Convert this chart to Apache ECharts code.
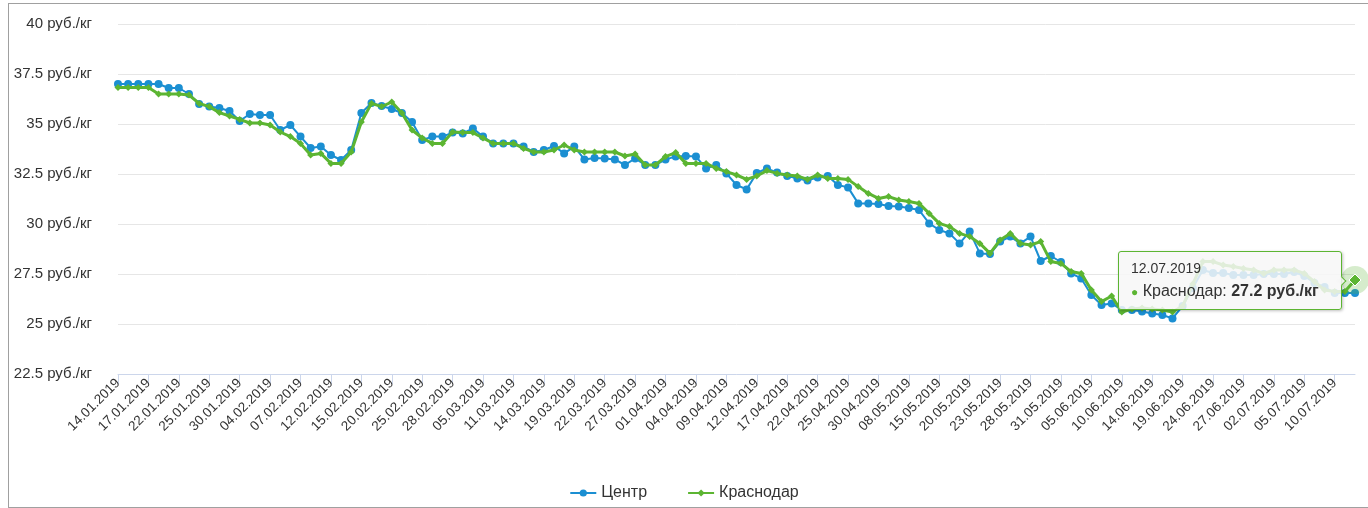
<!DOCTYPE html>
<html>
<head>
<meta charset="utf-8">
<script src="https://cdn.jsdelivr.net/npm/echarts@6/dist/echarts.min.js"></script>
<style>
html,body{margin:0;padding:0;background:#fff;}
#frame{position:absolute;left:8px;top:3px;width:1370px;height:503px;border-left:1px solid #a0a0a0;border-top:1px solid #a0a0a0;border-bottom:1px solid #a0a0a0;}
#chart{position:absolute;left:0;top:0;width:1368px;height:508px;}
</style>
</head>
<body>
<div id="frame"></div>
<div id="chart"></div>
<script>
const categories = [
"14.01.2019","15.01.2019","16.01.2019","17.01.2019","18.01.2019","21.01.2019","22.01.2019","23.01.2019","24.01.2019","25.01.2019","28.01.2019","29.01.2019","30.01.2019","31.01.2019",
"01.02.2019","04.02.2019","05.02.2019","06.02.2019","07.02.2019","08.02.2019","11.02.2019","12.02.2019","13.02.2019","14.02.2019","15.02.2019","18.02.2019","19.02.2019","20.02.2019","21.02.2019","22.02.2019","25.02.2019","26.02.2019","27.02.2019","28.02.2019",
"01.03.2019","04.03.2019","05.03.2019","06.03.2019","07.03.2019","11.03.2019","12.03.2019","13.03.2019","14.03.2019","15.03.2019","18.03.2019","19.03.2019","20.03.2019","21.03.2019","22.03.2019","25.03.2019","26.03.2019","27.03.2019","28.03.2019","29.03.2019",
"01.04.2019","02.04.2019","03.04.2019","04.04.2019","05.04.2019","08.04.2019","09.04.2019","10.04.2019","11.04.2019","12.04.2019","15.04.2019","16.04.2019","17.04.2019","18.04.2019","19.04.2019","22.04.2019","23.04.2019","24.04.2019","25.04.2019","26.04.2019","29.04.2019","30.04.2019",
"06.05.2019","07.05.2019","08.05.2019","13.05.2019","14.05.2019","15.05.2019","16.05.2019","17.05.2019","20.05.2019","21.05.2019","22.05.2019","23.05.2019","24.05.2019","27.05.2019","28.05.2019","29.05.2019","30.05.2019","31.05.2019",
"03.06.2019","04.06.2019","05.06.2019","06.06.2019","07.06.2019","10.06.2019","11.06.2019","13.06.2019","14.06.2019","17.06.2019","18.06.2019","19.06.2019","20.06.2019","21.06.2019","24.06.2019","25.06.2019","26.06.2019","27.06.2019","28.06.2019",
"01.07.2019","02.07.2019","03.07.2019","04.07.2019","05.07.2019","08.07.2019","09.07.2019","10.07.2019","11.07.2019","12.07.2019"
];

const centr = [
37.0,37.0,37.0,37.0,37.0,36.8,36.8,36.5,36.0,35.87,35.8,35.65,35.15,35.5,
35.45,35.45,34.7,34.95,34.37,33.8,33.87,33.45,33.2,33.7,35.55,36.05,35.9,35.75,35.55,35.1,34.2,34.37,34.37,34.57,
34.53,34.78,34.37,34.03,34.03,34.03,33.87,33.6,33.7,33.9,33.53,33.87,33.23,33.3,33.28,33.23,32.95,33.28,32.95,32.95,
33.23,33.37,33.4,33.37,32.78,32.95,32.53,31.95,31.73,32.55,32.78,32.57,32.4,32.28,32.17,32.33,32.4,31.95,31.83,31.03,31.03,31.0,
30.9,30.87,30.8,30.7,30.03,29.7,29.53,29.03,29.62,28.53,28.5,29.12,29.37,29.03,29.37,28.15,28.4,28.1,
27.53,27.28,26.45,25.95,26.03,25.7,25.7,25.62,25.53,25.45,25.28,25.9,26.8,27.7,27.55,27.55,27.45,27.45,27.45,
27.5,27.5,27.5,27.6,27.4,27.05,26.85,26.55,26.55,26.55
];

const krasnodar = [
36.83,36.83,36.83,36.83,36.5,36.5,36.5,36.45,36.03,35.87,35.57,35.4,35.23,35.05,
35.05,34.95,34.6,34.37,34.03,33.45,33.53,33.03,33.03,33.6,35.1,36.03,35.87,36.1,35.55,34.7,34.3,34.03,34.03,34.6,
34.57,34.57,34.3,34.03,34.03,34.03,33.78,33.6,33.6,33.7,33.95,33.7,33.6,33.6,33.6,33.6,33.4,33.5,32.95,32.95,
33.37,33.57,33.03,33.03,33.03,32.78,32.62,32.45,32.23,32.4,32.67,32.53,32.45,32.4,32.23,32.45,32.28,32.28,32.23,31.87,31.53,31.28,
31.37,31.2,31.12,31.03,30.53,30.03,29.87,29.53,29.37,29.03,28.53,29.2,29.53,29.03,28.95,29.12,28.12,28.03,
27.62,27.53,26.7,26.12,26.4,25.6,25.75,25.8,25.75,25.7,25.6,25.9,27.0,28.12,28.12,27.95,27.87,27.78,27.7,
27.53,27.7,27.7,27.7,27.53,27.12,26.7,26.62,26.62,27.2
];

const seriesNames = ["Центр", "Краснодар"];
const unit = " руб./кг";
const BLUE = "#1b8fd2", GREEN = "#5cb532";
const hoverIndex = categories.length - 1;

const chart = echarts.init(document.getElementById('chart'), null, {renderer: 'canvas'});
const font = '"Liberation Sans", Arial, sans-serif';

chart.setOption({
  animation: false,
  textStyle: {fontFamily: font},
  grid: {left: 118, right: 13, top: 24, bottom: 134, containLabel: false},
  xAxis: {
    type: 'category',
    data: categories,
    boundaryGap: false,
    axisLine: {lineStyle: {color: '#ccd6eb', width: 1}},
    axisTick: {show: true, interval: 2, length: 10, lineStyle: {color: '#ccd6eb'}},
    axisLabel: {interval: 2, rotate: 45, color: '#333', fontSize: 13.5, margin: 7, fontFamily: font},
    splitLine: {show: false}
  },
  yAxis: {
    type: 'value',
    min: 22.5, max: 40, interval: 2.5,
    axisLine: {show: false},
    axisTick: {show: false},
    axisLabel: {color: '#333', fontSize: 15, margin: 26, fontFamily: font,
      formatter: v => v + unit},
    splitLine: {lineStyle: {color: '#e6e6e6', width: 1}}
  },
  legend: {
    bottom: 2, left: 'center', itemGap: 40, itemWidth: 26, itemHeight: 9,
    textStyle: {color: '#333', fontSize: 16, fontFamily: font},
    data: seriesNames
  },
  tooltip: {
    trigger: 'item',
    position: 'left',
    transitionDuration: 0,
    alwaysShowContent: true,
    backgroundColor: 'rgba(247,247,247,0.85)',
    borderColor: GREEN,
    borderWidth: 1,
    padding: [7, 22, 7, 12],
    extraCssText: 'border-radius:3px;box-shadow:1px 1px 3px rgba(0,0,0,0.25);',
    formatter: p => '<div style="font-family:Liberation Sans,Arial;font-size:14px;color:#333;line-height:18px;margin-bottom:4px">' + p.name + '</div>' +
      '<div style="font-family:Liberation Sans,Arial;font-size:16px;color:#333;line-height:20px"><span style="color:' + p.color + ';font-size:12px">●</span> ' +
      p.seriesName + ': <b>' + p.value + unit + '</b></div>'
  },
  series: [
    {
      name: seriesNames[0], type: 'line', data: centr,
      color: BLUE,
      symbol: 'circle', symbolSize: 8, showSymbol: true, showAllSymbol: true,
      lineStyle: {width: 2, color: BLUE},
      itemStyle: {color: BLUE},
      z: 2
    },
    {
      name: seriesNames[1], type: 'line', data: krasnodar,
      color: GREEN,
      symbol: 'diamond', symbolSize: 7, showSymbol: true, showAllSymbol: true,
      lineStyle: {width: 3, color: GREEN},
      itemStyle: {color: GREEN},
      z: 3,
      markPoint: {
        silent: true,
        label: {show: false},
        data: [
          {coord: [categories[hoverIndex], krasnodar[hoverIndex]], symbol: 'circle', symbolSize: 28,
           itemStyle: {color: 'rgba(92,181,50,0.25)'}},
          {coord: [categories[hoverIndex], krasnodar[hoverIndex]], symbol: 'diamond', symbolSize: 12,
           itemStyle: {color: GREEN, borderColor: '#fff', borderWidth: 1}}
        ]
      }
    }
  ]
});

chart.dispatchAction({type: 'showTip', seriesIndex: 1, dataIndex: hoverIndex});
</script>
</body>
</html>
